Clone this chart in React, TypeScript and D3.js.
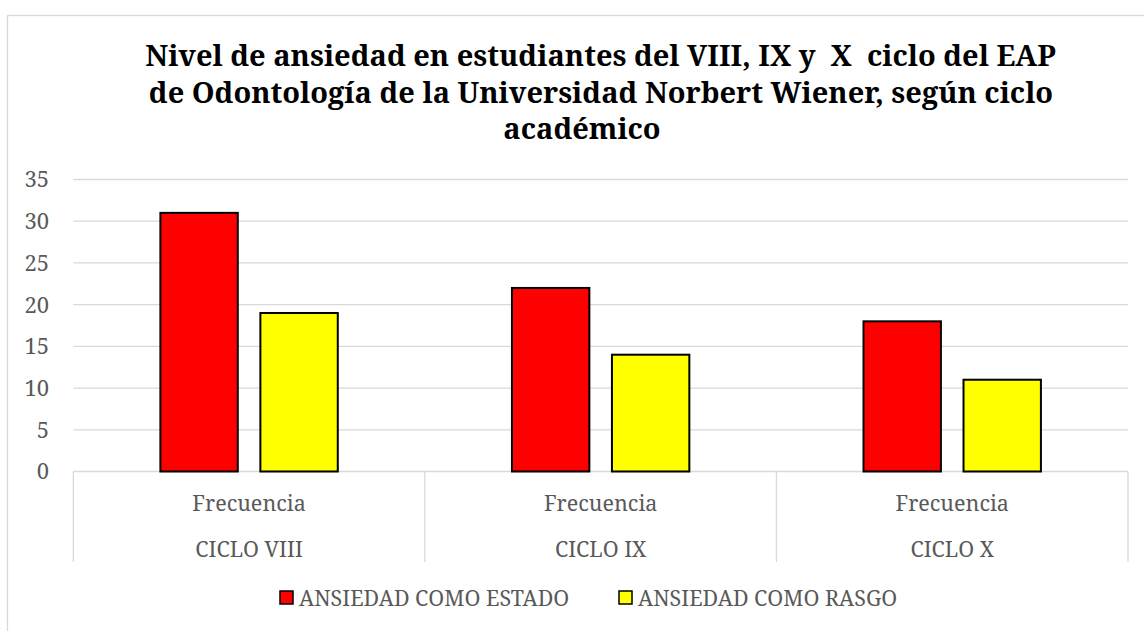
import React from "react";
import * as d3 from "d3";

const categories = ["CICLO VIII", "CICLO IX", "CICLO X"];
const subLabels = ["Frecuencia", "Frecuencia", "Frecuencia"];
const seriesNames = ["ANSIEDAD COMO ESTADO", "ANSIEDAD COMO RASGO"];
const estado = [31, 22, 18];
const rasgo = [19, 14, 11];
const yTicks = [0, 5, 10, 15, 20, 25, 30, 35];
const titleLines = [
  "Nivel de ansiedad en estudiantes del VIII, IX y  X  ciclo del EAP",
  "de Odontología de la Universidad Norbert Wiener, según ciclo",
  "académico",
];
const colors = ["#FF0000", "#FFFF00"];

export default function App() {
  const W = 1144, H = 631;
  const left = 73.3, right = 1128, top = 179.5, bottom = 471.5;
  const y = d3.scaleLinear().domain([0, 35]).range([bottom, top]);
  const x0 = d3.scaleBand().domain(categories).range([left, right]).paddingInner(0).paddingOuter(0);
  const x1 = d3.scaleBand().domain(seriesNames).range([0, x0.bandwidth()]).paddingInner(0.226).paddingOuter(0.871);
  const series = [estado, rasgo];
  const labelFont = "Noto Serif";
  const titleFont = "Noto Serif";
  const gray = "#595959";
  const grid = "#d9d9d9";
  const titleX = [600.5, 601, 582];
  return (
    <svg width={W} height={H} style={{ position: "absolute", left: 0, top: 0 }}>
      <rect x={0} y={0} width={W} height={H} fill="#fff" />
      <rect x={7.5} y={15.5} width={W + 10} height={H + 10} fill="none" stroke={grid} strokeWidth={1.3} />
      {titleLines.map((t, i) => (
        <text key={i} x={titleX[i]} y={66 + i * 36.5} textAnchor="middle" fontFamily={titleFont} fontWeight="bold" fontSize={29} fill="#000" style={{ whiteSpace: "pre" }}>{t}</text>
      ))}
      {yTicks.map((t) => (
        <g key={t}>
          {t > 0 && <line x1={left} x2={right} y1={y(t)} y2={y(t)} stroke={grid} strokeWidth={1.3} />}
          <text x={49} y={y(t)} dy="0.36em" textAnchor="end" fontFamily={labelFont} fontSize={22} fill={gray}>{t}</text>
        </g>
      ))}
      <line x1={left} x2={right} y1={bottom} y2={bottom} stroke={grid} strokeWidth={1.3} />
      {[left, ...categories.map((c) => (x0(c) as number) + x0.bandwidth())].map((xv, i) => (
        <line key={i} x1={xv} x2={xv} y1={bottom} y2={562} stroke={grid} strokeWidth={1.3} />
      ))}
      {categories.map((c, ci) => (
        <g key={c}>
          {series.map((s, si) => (
            <rect key={si} x={(x0(c) as number) + (x1(seriesNames[si]) as number)} y={y(s[ci])} width={x1.bandwidth()} height={bottom - y(s[ci])} fill={colors[si]} stroke="#000" strokeWidth={2} />
          ))}
          <text x={(x0(c) as number) + x0.bandwidth() / 2} y={511} textAnchor="middle" fontFamily={labelFont} fontSize={21.5} fill={gray}>{subLabels[ci]}</text>
          <text x={(x0(c) as number) + x0.bandwidth() / 2} y={557} textAnchor="middle" fontFamily={labelFont} fontSize={21.5} fill={gray}>{c}</text>
        </g>
      ))}
      {seriesNames.map((n, i) => {
        const lx = [280, 619][i];
        return (
          <g key={n}>
            <rect x={lx} y={591} width={13} height={13} fill={colors[i]} stroke="#000" strokeWidth={1.5} />
            <text x={lx + 19} y={606} fontFamily={labelFont} fontSize={21.5} fill={gray}>{n}</text>
          </g>
        );
      })}
    </svg>
  );
}
